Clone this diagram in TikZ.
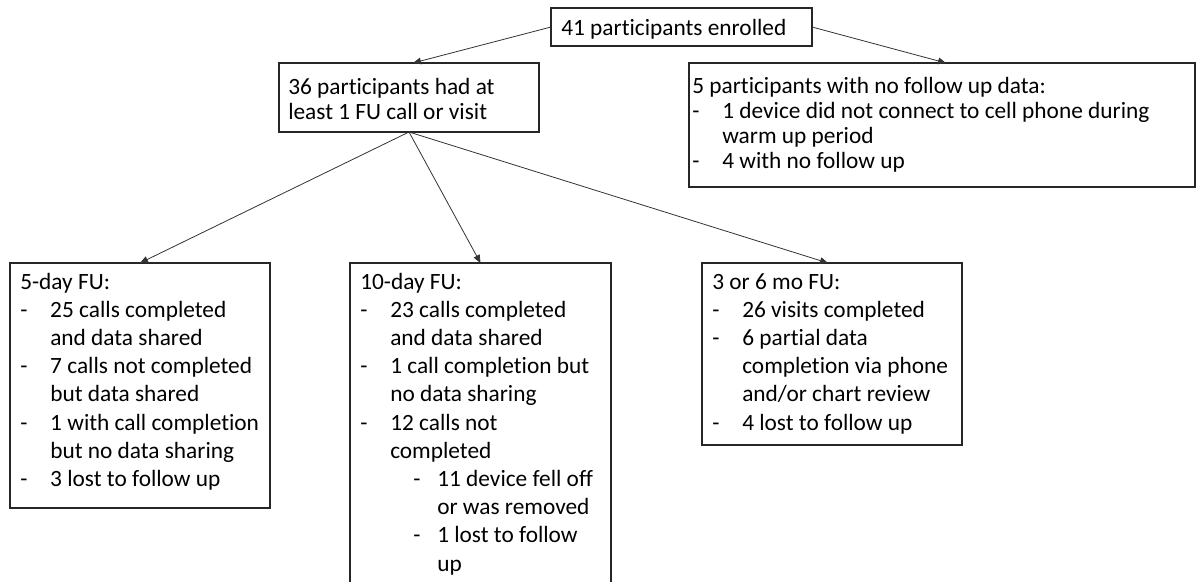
\documentclass[tikz,border=0pt]{standalone}
\usepackage{fontspec}
\setmainfont{Carlito}[Ligatures=NoCommon]
\usetikzlibrary{arrows.meta}
\newcommand\bl{\makebox[22.5pt][l]{-}}
\newcommand\ct{\hspace*{22.5pt}}
\newcommand\sbl{\hspace*{39.75pt}\makebox[18pt][l]{-}}
\newcommand\sct{\hspace*{57.75pt}}
\begin{document}
\begin{tikzpicture}[x=0.75pt,y=-0.75pt,
  boxst/.style={draw=black!85, line width=0.8pt, inner sep=0pt, outer sep=0pt, anchor=north west},
  txt/.style={inner sep=0pt, anchor=base west, font=\fontsize{17.5pt}{21.15pt}\selectfont},
  txtu/.style={inner sep=0pt, anchor=base west, font=\fontsize{17.5pt}{18.75pt}\selectfont},
  conn/.style={draw=black!80, line width=0.6pt, -{Triangle[length=6pt,width=5pt]}}]
\useasboundingbox (0,0) rectangle (1197,582);
% boxes
\node[boxst, minimum width=195.75pt, minimum height=28.5pt] (top) at (551,8) {};
\node[boxst, minimum width=195pt, minimum height=51.75pt] (b36) at (279,63) {};
\node[boxst, minimum width=379.5pt, minimum height=93pt] (b5) at (689,63) {};
\node[boxst, minimum width=195pt, minimum height=183.75pt] (d5) at (10,263) {};
\node[boxst, minimum width=195.75pt, minimum height=252.75pt] (d10) at (350,263) {};
\node[boxst, minimum width=195pt, minimum height=136.5pt] (m36) at (702,263) {};
% texts
\node[txtu] (ttop) at (561,35) {\parbox[t]{300pt}{41 participants enrolled}};
\node[txtu] (t36) at (288,94) {\parbox[t]{300pt}{36 participants had at\\ least 1 FU call or visit}};
\node[txtu] (t5) at (692,93) {\parbox[t]{400pt}{5 participants with no follow up data:\\ \bl 1 device did not connect to cell phone during\\ \ct warm up period\\ \bl 4 with no follow up}};
\node[txt] (td5) at (20,289) {\parbox[t]{300pt}{5-day FU:\\ \bl 25 calls completed\\ \ct and data shared\\ \bl 7 calls not completed\\ \ct but data shared\\ \bl 1 with call completion\\ \ct but no data sharing\\ \bl 3 lost to follow up}};
\node[txt] (td10) at (360,289) {\parbox[t]{300pt}{10-day FU:\\ \bl 23 calls completed\\ \ct and data shared\\ \bl 1 call completion but\\ \ct no data sharing\\ \bl 12 calls not\\ \ct completed\\ \sbl 11 device fell off\\ \sct or was removed\\ \sbl 1 lost to follow\\ \sct up}};
\node[txt] (tm36) at (712,289) {\parbox[t]{300pt}{3 or 6 mo FU:\\ \bl 26 visits completed\\ \bl 6 partial data\\ \ct completion via phone\\ \ct and/or chart review\\ \bl 4 lost to follow up}};
% connectors
\draw[conn] (top.west) -- ([xshift=3pt]b36.north);
\draw[conn] (top.east) -- ([xshift=3pt]b5.north);
\draw[conn] (b36.south) -- (d5.north);
\draw[conn] (b36.south) -- (d10.north);
\draw[conn] (b36.south) -- ([xshift=-3pt]m36.north);
\end{tikzpicture}
\end{document}
